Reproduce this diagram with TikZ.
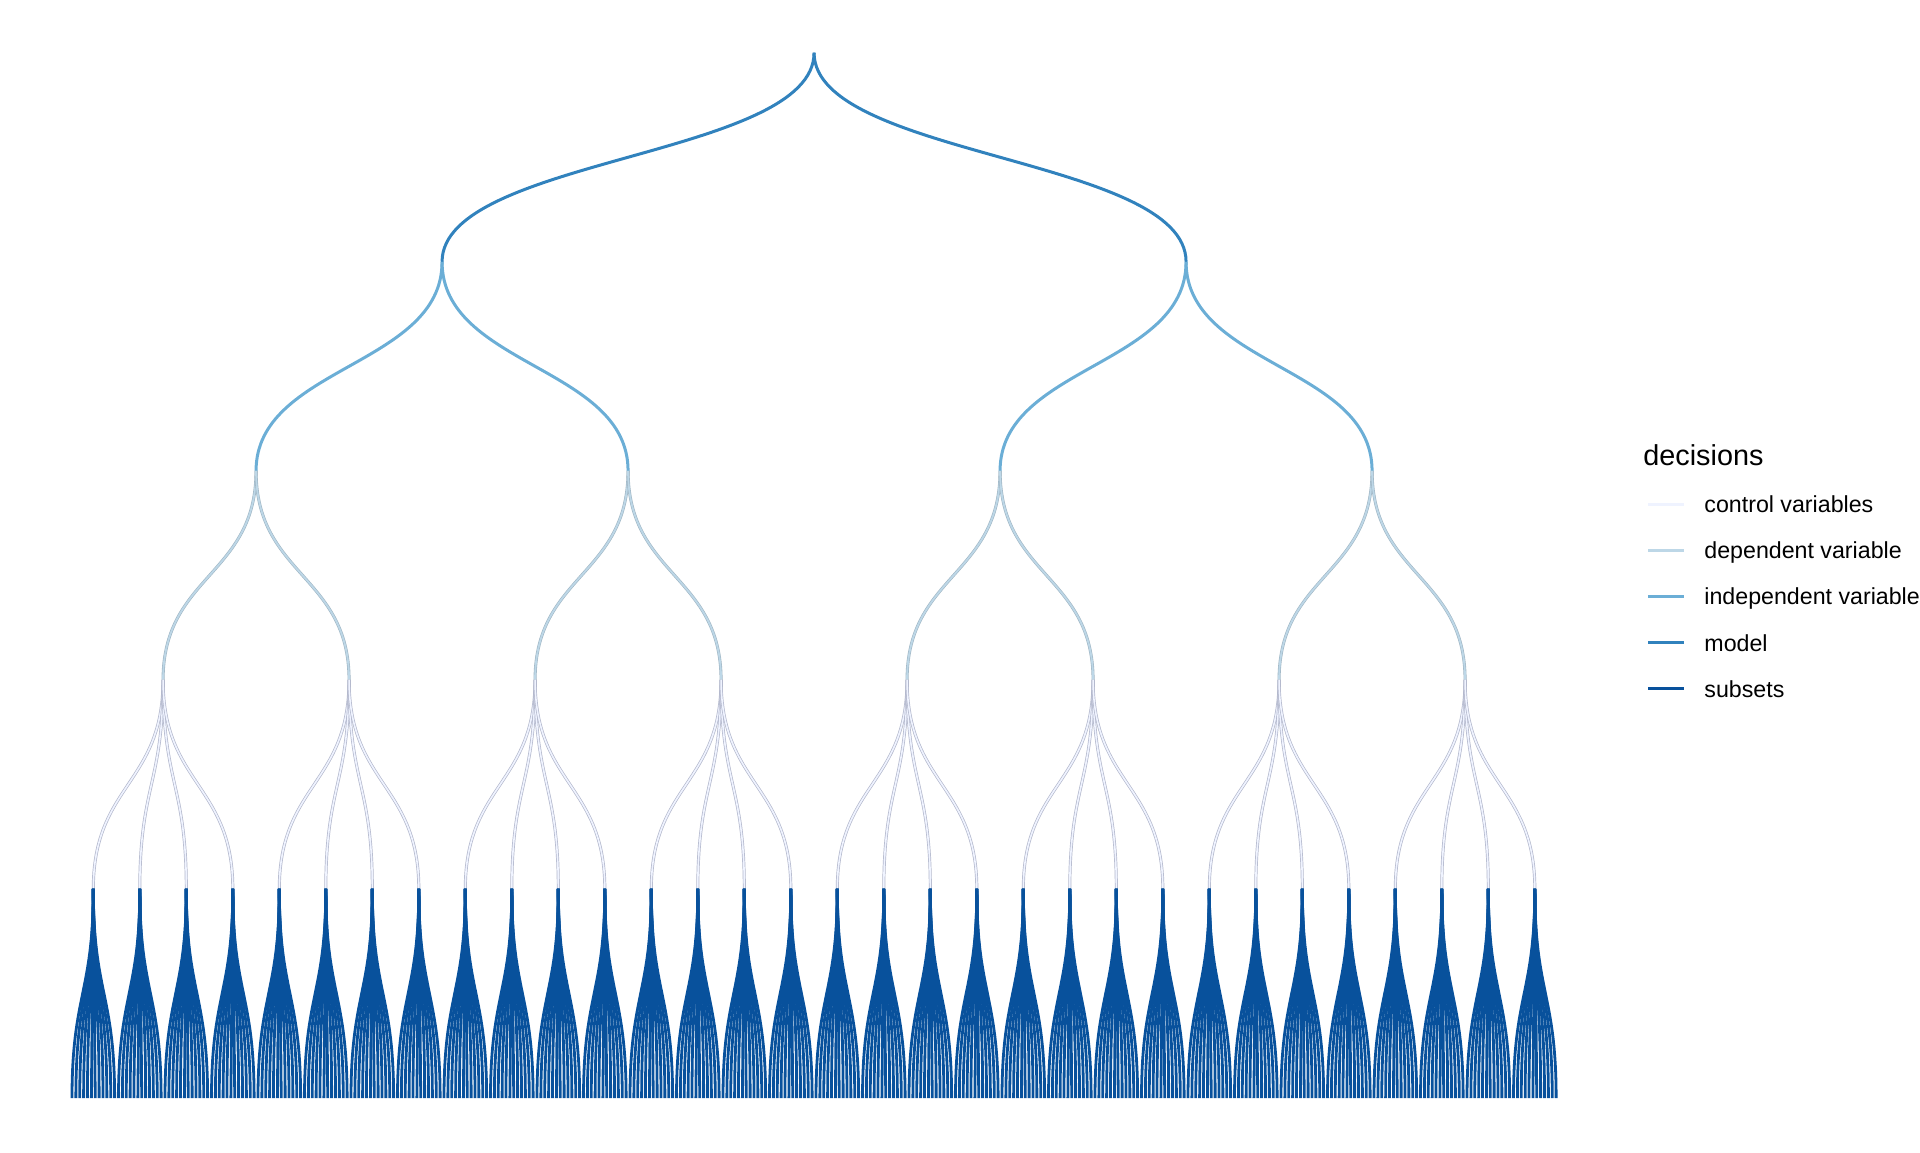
\documentclass[tikz,border=0pt]{standalone}
\usepackage{fontspec}
\setmainfont{Liberation Sans}
\usetikzlibrary{calc}
\definecolor{ctrlcol}{HTML}{EFF3FF}
\definecolor{ctrledge}{HTML}{B3B8CC}
\definecolor{depcol}{HTML}{BDD7E7}
\definecolor{depedge}{HTML}{A0B6C4}
\definecolor{indepcol}{HTML}{6BAED6}
\definecolor{modelcol}{HTML}{3182BD}
\definecolor{subscol}{HTML}{08519C}

\begin{document}
\begin{tikzpicture}
[x=0.5pt,y=-0.5pt,
 diag/.style={to path={.. controls ($(\tikztostart)+(0,104.5)$) and ($(\tikztotarget)-(0,104.5)$) .. (\tikztotarget)}},
 modelline/.style={draw=modelcol,line width=1.5pt},
 indepline/.style={draw=indepcol,line width=1.5pt},
 depline/.style={draw=depedge,double=depcol,line width=0.3pt,double distance=0.9pt},
 ctrlline/.style={draw=ctrledge,double=ctrlcol,line width=0.35pt,double distance=0.8pt},
 subsline/.style={draw=subscol,line width=1.4pt},
 keyline/.style={line width=1.5pt},
 legendtitle/.style={inner sep=0pt,font=\fontsize{14.4}{17}\selectfont},
 legendtext/.style={inner sep=0pt,font=\fontsize{11.6}{14}\selectfont}]
\useasboundingbox (0,0) rectangle (1920,1152);

% levels of the tree, leaves 3.875 apart
\coordinate (root) at ({72+191.5*3.875},52.7);
\foreach \n in {0,1} \coordinate (model\n) at ({72+(192*\n+95.5)*3.875},261.8);
\foreach \m in {0,...,3} \coordinate (indep\m) at ({72+(96*\m+47.5)*3.875},470.8);
\foreach \j in {0,...,7} \coordinate (dep\j) at ({72+(48*\j+23.5)*3.875},679.9);
\foreach \k in {0,...,31} \coordinate (ctrl\k) at ({72+(12*\k+5.5)*3.875},888.9);
\foreach \i in {0,...,383} \coordinate (leaf\i) at ({72+\i*3.875},1098);

\foreach \n in {0,1} \draw[modelline] (root) to[diag] (model\n);
\foreach \m in {0,...,3} {\pgfmathtruncatemacro\p{\m/2}
  \draw[indepline] (model\p) to[diag] (indep\m);}
\foreach \j in {0,...,7} {\pgfmathtruncatemacro\p{\j/2}
  \draw[depline] (indep\p) to[diag] (dep\j);}
\foreach \k in {0,...,31} {\pgfmathtruncatemacro\p{\k/4}
  \draw[ctrlline] (dep\p) to[diag] (ctrl\k);}
\foreach \i in {0,...,383} {\pgfmathtruncatemacro\p{\i/12}
  \draw[subsline] (ctrl\p) to[diag] (leaf\i);}

% legend
\node[legendtitle,anchor=base west] (title) at (1643,465) {decisions};
\foreach \lab/\col [count=\r from 0] in {control variables/ctrlcol,dependent variable/depcol,independent variable/indepcol,model/modelcol,subsets/subscol}{
  \coordinate (keyl\r) at (1648,{504.3+46.1*\r});
  \coordinate (keyr\r) at (1684,{504.3+46.1*\r});
  \draw[keyline,draw=\col] (keyl\r) -- (keyr\r);
  \node[legendtext,anchor=base west] (lab\r) at (1704,{512.7+46.1*\r}) {\lab};
}
\end{tikzpicture}
\end{document}
